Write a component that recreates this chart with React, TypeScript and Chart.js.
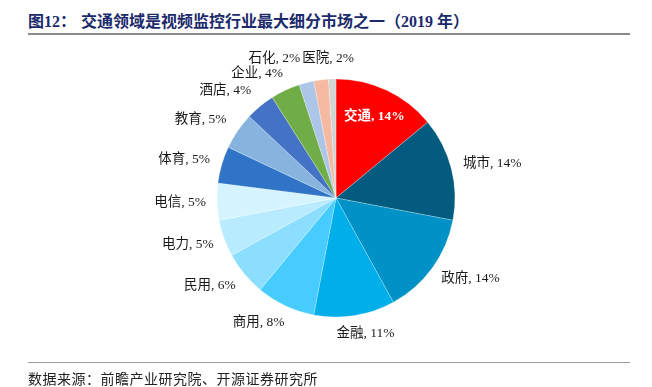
import React, { useEffect, useRef } from 'react';
import { Chart, registerables } from 'chart.js';

Chart.register(...registerables);

const categories = ['交通', '城市', '政府', '金融', '商用', '民用', '电力', '电信', '体育', '教育', '酒店', '企业', '石化', '医院', '其他'];
const shares = [14, 14, 14, 11, 8, 6, 5, 5, 5, 5, 4, 4, 2, 2, 1];
const sliceColors = [
  '#FF0000', '#035C7F', '#0092C6', '#00AEEA', '#46CCFF', '#8CDEFF', '#B9EBFF', '#D5F4FF',
  '#2F74C6', '#86B4DF', '#4472C4', '#70AD47', '#ADC6E8', '#F5BBA2', '#D3D3D3',
];
const insideLabels = ['交通'];
const hiddenLabels = ['其他'];

const titleLead = '图12：';
const titleText = '交通领域是视频监控行业最大细分市场之一（2019 年）';
const sourceText = '数据来源：前瞻产业研究院、开源证券研究所';

const LABEL_FONT = '"Liberation Serif", "Noto Sans CJK SC", serif';

const labelPlugin = {
  id: 'sliceLabels',
  afterDatasetsDraw(chart: any) {
    const ctx = chart.ctx;
    const meta = chart.getDatasetMeta(0);
    const boxes: any[] = [];
    ctx.save();
    meta.data.forEach((arc: any, i: number) => {
      const cat = categories[i];
      if (hiddenLabels.includes(cat)) return;
      const p = arc.getProps(['x', 'y', 'startAngle', 'endAngle', 'outerRadius'], true);
      const mid = (p.startAngle + p.endAngle) / 2;
      const dx = Math.cos(mid);
      const dy = Math.sin(mid);
      const text = `${cat}, ${shares[i]}%`;
      if (insideLabels.includes(cat)) {
        ctx.font = `bold 13.5px ${LABEL_FONT}`;
        ctx.fillStyle = '#FFFFFF';
        ctx.textAlign = 'center';
        ctx.textBaseline = 'middle';
        const rr = p.outerRadius * 0.756;
        ctx.fillText(text, p.x + dx * rr, p.y + dy * rr);
        return;
      }
      ctx.font = `13.5px ${LABEL_FONT}`;
      const w = ctx.measureText(text).width;
      const h = 14;
      const D = p.outerRadius + 11 + 4 * Math.max(0, -dy);
      const k = Math.min(1, Math.abs(dx) * 2);
      const cx = p.x + dx * D + Math.sign(dx) * k * w / 2;
      const cy = p.y + dy * D + dy * h / 2;
      boxes.push({ text, cx, cy, w, h, dy });
    });
    // resolve overlaps
    for (let it = 0; it < 30; it++) {
      let moved = false;
      for (let a = 0; a < boxes.length; a++) {
        for (let b = a + 1; b < boxes.length; b++) {
          const A = boxes[a], B = boxes[b];
          const ox = (A.w + B.w) / 2 + 2 - Math.abs(A.cx - B.cx);
          const oy = (A.h + B.h) / 2 + 1 - Math.abs(A.cy - B.cy);
          if (ox > 0 && oy > 0) {
            moved = true;
            const nearPole = Math.abs(A.dy) > 0.95 && Math.abs(B.dy) > 0.95;
            if (nearPole || ox < oy) {
              const s = A.cx < B.cx ? -1 : 1;
              A.cx += s * ox / 2; B.cx -= s * ox / 2;
            } else {
              const s = A.cy < B.cy ? -1 : 1;
              A.cy += s * oy / 2; B.cy -= s * oy / 2;
            }
          }
        }
      }
      if (!moved) break;
    }
    ctx.font = `13.5px ${LABEL_FONT}`;
    ctx.fillStyle = '#1a1a1a';
    ctx.textAlign = 'center';
    ctx.textBaseline = 'middle';
    boxes.forEach((bx) => ctx.fillText(bx.text, bx.cx, bx.cy));
    ctx.restore();
  },
};

export default function App() {
  const ref = useRef<HTMLCanvasElement | null>(null);
  useEffect(() => {
    if (!ref.current) return;
    const chart = new Chart(ref.current, {
      type: 'pie',
      data: {
        labels: categories,
        datasets: [
          {
            data: shares,
            backgroundColor: sliceColors,
            borderColor: 'rgba(255,255,255,0.5)',
            borderWidth: 0.5,
            hoverOffset: 0,
          },
        ],
      },
      options: {
        responsive: false,
        animation: false,
        radius: 119,
        layout: { padding: { left: 217, right: 197, top: 79, bottom: 70 } },
        plugins: {
          legend: { display: false },
          tooltip: { enabled: false },
          title: { display: false },
        },
        events: [],
      } as any,
      plugins: [labelPlugin],
    });
    return () => chart.destroy();
  }, []);

  return (
    <div style={{ position: 'absolute', left: 0, top: 0, width: 652, height: 387, background: '#fff', overflow: 'hidden' }}>
      <div
        style={{
          position: 'absolute', left: 28, top: 14, height: 16, lineHeight: '16px', whiteSpace: 'nowrap',
          fontFamily: '"Liberation Serif", "Noto Sans CJK SC", serif', fontWeight: 'bold', fontSize: 16, color: '#1B2A6B',
        }}
      >
        <span style={{ marginRight: 5 }}>{titleLead}</span>
        {titleText}
      </div>
      <div style={{ position: 'absolute', left: 28, top: 33, width: 602, height: 0, borderTop: '2px solid #8a8a8a' }} />
      <canvas ref={ref} width={652} height={387} style={{ position: 'absolute', left: 0, top: 0, width: 652, height: 387 }} />
      <div style={{ position: 'absolute', left: 28, top: 362, width: 602, height: 0, borderTop: '1.5px solid #9a9a9a' }} />
      <div
        style={{
          position: 'absolute', left: 28, top: 370, height: 16, lineHeight: '16px', whiteSpace: 'nowrap',
          fontFamily: '"Noto Sans CJK SC", sans-serif', fontSize: 14, color: '#222', letterSpacing: 0.5,
        }}
      >
        {sourceText}
      </div>
    </div>
  );
}
